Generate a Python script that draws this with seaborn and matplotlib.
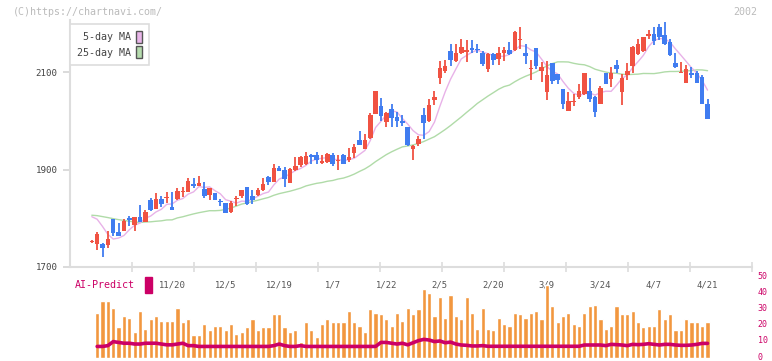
import numpy as np
import pandas as pd
import matplotlib
matplotlib.use("Agg")
import matplotlib.pyplot as plt
import matplotlib.transforms as mtransforms
from matplotlib.patches import Patch, Rectangle
import seaborn as sns

# --- daily candles ---
opens = [1752, 1747, 1747, 1745, 1798, 1772, 1774, 1801, 1786, 1803,
         1793, 1837, 1820, 1839, 1842, 1823, 1839, 1854, 1854, 1870,
         1867, 1860, 1848, 1852, 1836, 1831, 1813, 1839, 1846, 1864,
         1846, 1848, 1858, 1884, 1874, 1903, 1899, 1873, 1899, 1910,
         1912, 1929, 1930, 1914, 1915, 1930, 1919, 1930, 1919, 1934,
         1960, 1943, 1964, 2013, 2031, 1998, 2024, 2008, 2000, 1988,
         1942, 1952, 2011, 1999, 2042, 2088, 2103, 2143, 2122, 2139,
         2141, 2149, 2148, 2140, 2106, 2136, 2126, 2138, 2146, 2145,
         2166, 2140, 2107, 2150, 2103, 2058, 2119, 2095, 2065, 2019,
         2039, 2048, 2055, 2062, 2048, 2035, 2097, 2085, 2114, 2058,
         2094, 2113, 2137, 2144, 2173, 2178, 2193, 2176, 2162, 2118,
         2099, 2078, 2097, 2097, 2089, 2035]
highs = [1755, 1772, 1750, 1774, 1798, 1790, 1798, 1804, 1803, 1827,
         1817, 1842, 1852, 1846, 1854, 1854, 1862, 1864, 1882, 1882,
         1887, 1874, 1862, 1852, 1840, 1831, 1835, 1846, 1858, 1864,
         1858, 1863, 1882, 1886, 1912, 1908, 1905, 1903, 1926, 1928,
         1935, 1931, 1935, 1929, 1934, 1934, 1929, 1932, 1944, 1952,
         1979, 1972, 2015, 2061, 2046, 2017, 2034, 2017, 2012, 1988,
         1950, 1969, 2026, 2044, 2062, 2123, 2124, 2157, 2157, 2167,
         2165, 2165, 2157, 2144, 2138, 2140, 2152, 2152, 2161, 2184,
         2192, 2158, 2125, 2150, 2120, 2123, 2119, 2095, 2065, 2060,
         2055, 2075, 2098, 2087, 2050, 2072, 2099, 2111, 2124, 2095,
         2118, 2153, 2168, 2172, 2186, 2193, 2198, 2203, 2167, 2138,
         2121, 2115, 2110, 2102, 2094, 2045]
lows = [1750, 1735, 1721, 1738, 1764, 1764, 1774, 1785, 1774, 1793,
        1793, 1815, 1820, 1824, 1832, 1817, 1837, 1843, 1854, 1863,
        1867, 1842, 1837, 1837, 1825, 1810, 1811, 1825, 1841, 1827,
        1830, 1846, 1856, 1869, 1874, 1896, 1865, 1873, 1897, 1905,
        1910, 1911, 1911, 1911, 1913, 1908, 1898, 1911, 1915, 1924,
        1951, 1943, 1962, 2013, 1999, 1988, 1988, 1988, 1990, 1949,
        1920, 1949, 1963, 1997, 2033, 2075, 2097, 2113, 2120, 2137,
        2121, 2138, 2138, 2113, 2101, 2115, 2115, 2122, 2134, 2143,
        2148, 2116, 2084, 2106, 2080, 2042, 2075, 2076, 2024, 2019,
        2030, 2044, 2053, 2039, 2008, 2034, 2076, 2070, 2097, 2033,
        2083, 2099, 2135, 2142, 2168, 2155, 2166, 2156, 2132, 2108,
        2097, 2078, 2088, 2078, 2034, 2003]
closes = [1754, 1768, 1738, 1757, 1770, 1764, 1794, 1797, 1803, 1793,
          1813, 1817, 1839, 1830, 1844, 1817, 1855, 1856, 1876, 1866,
          1872, 1846, 1862, 1837, 1834, 1811, 1831, 1842, 1858, 1830,
          1837, 1858, 1870, 1874, 1903, 1897, 1880, 1901, 1907, 1926,
          1928, 1925, 1920, 1917, 1932, 1911, 1921, 1911, 1926, 1946,
          1951, 1961, 2012, 2061, 2009, 2015, 2005, 2000, 1995, 1951,
          1948, 1962, 1995, 2033, 2048, 2109, 2112, 2124, 2138, 2151,
          2145, 2145, 2146, 2116, 2136, 2125, 2138, 2146, 2136, 2182,
          2168, 2132, 2109, 2113, 2110, 2093, 2082, 2083, 2035, 2040,
          2041, 2062, 2098, 2044, 2018, 2067, 2076, 2097, 2106, 2087,
          2102, 2152, 2158, 2171, 2178, 2164, 2171, 2158, 2134, 2110,
          2101, 2106, 2093, 2078, 2034, 2003]
# closes before the visible window (needed for the moving averages)
prior_closes = [1790, 1787, 1807, 1826, 1814, 1833, 1838, 1841, 1822, 1787,
                1807, 1811, 1808, 1799, 1812, 1754, 1799, 1800, 1795, 1810,
                1794, 1812, 1838, 1818]

date_labels = ["11/20", "12/5", "12/19", "1/7", "1/22", "2/5",
               "2/20", "3/9", "3/24", "4/7", "4/21"]
date_pos = [15, 25, 35, 45, 55, 65, 75, 85, 95, 105, 115]

# AI-Predict panel (first day has no value)
ai_bars = [np.nan,
           28, 35, 35, 31, 19, 26, 25, 16, 29, 18, 24, 26, 23, 23, 23, 31, 22, 24, 14, 14,
           21, 17, 20, 20, 17, 21, 15, 16, 19, 24, 17, 19, 19, 27, 27, 19, 16, 17, 10, 22,
           17, 13, 21, 24, 22, 22, 22, 29, 22, 20, 16, 30, 28, 27, 24, 20, 28,
           23, 31, 27, 30, 43, 40, 26, 38, 25, 39, 26, 24, 38, 28, 18, 31, 18, 17, 25, 21,
           20, 28, 27, 25, 28, 29, 24, 45, 32, 22, 26, 28, 21, 20, 28, 32, 33, 24, 18, 20,
           32, 27, 27, 29, 22, 19, 20, 20, 30, 24, 27, 17, 17, 24, 22, 22, 20, 22]
ai_line = [np.nan,
           7, 7, 7.5, 10, 9.5, 9, 9, 8.5, 8.5, 9, 9, 9, 8.5, 8, 8, 8.5, 9, 7.5, 7.5, 7,
           7, 7, 7, 7, 7, 7, 7, 7, 7, 7, 7, 7, 7,
           7.5, 8.5, 7.5, 7, 7, 7.5,
           7, 7, 7, 7, 7, 7, 7, 7, 7, 7, 7, 7, 7, 7,
           9.5, 9.5, 9, 8.5, 9, 8, 9.3, 10.6, 11.4, 11, 10, 10.4, 9.3, 9.7, 8.5, 7.9,
           7.7, 7.3, 7.3, 7.5,
           7.1, 7.1, 7.1, 7.1, 7.1, 7.1, 7.1, 7.1, 7.1, 7.1, 7.1, 7.1, 7.1, 7.1, 7.1,
           7.1, 7.1, 7.1,
           7.9, 7.9, 7.9, 7.9, 7.5, 8.3, 8.1, 7.9, 7.5, 8.3, 8.1, 8.3, 8.7, 8.3, 7.9,
           8.3, 8.3, 7.9, 7.7, 7.7, 7.9, 8.3, 8.9, 8.9]

UP = "#f05242"
DOWN = "#407cf0"
MA5_C = "#e8b2e8"
MA25_C = "#b0dba8"
MAGENTA = "#cc0066"
ORANGE = "#f2973f"

sns.set_theme(style="white")
plt.rcParams["font.family"] = ["DejaVu Sans Mono", "DejaVu Sans"]

df = pd.DataFrame({"o": opens, "h": highs, "l": lows, "c": closes})
df["idx"] = np.arange(len(df))
all_close = pd.Series(prior_closes + closes, dtype=float)
df["ma5"] = all_close.rolling(5).mean().iloc[len(prior_closes):].values
df["ma25"] = all_close.rolling(25).mean().iloc[len(prior_closes):].values

W, H = 772, 361
fig = plt.figure(figsize=(W / 100, H / 100), dpi=100)
ax = fig.add_axes([70 / W, 1 - 267 / H, 682 / W, 247 / H])
ax2 = fig.add_axes([70 / W, 1 - 357.7 / H, 682 / W, 80.4 / H])

n = len(df)
xlim = (-4.07, n - 1 + 8.3)

# moving averages
sns.lineplot(data=df, x="idx", y="ma25", color=MA25_C, lw=1.0, ax=ax)
sns.lineplot(data=df, x="idx", y="ma5", color=MA5_C, lw=1.0, ax=ax)

# candles
up = df["c"] >= df["o"]
colors = np.where(up, UP, DOWN)
ax.vlines(df["idx"], df["l"], df["h"], colors=colors, lw=1.3, zorder=3)
body = (df["c"] - df["o"]).abs().clip(lower=2.2)
ax.bar(df["idx"], body, bottom=np.minimum(df["o"], df["c"]) - np.where(
    (df["c"] - df["o"]).abs() < 2.2, 1.1, 0), width=0.85, color=colors, lw=0, zorder=4)

ax.set_xlim(*xlim)
ax.set_ylim(1700, 2206.7)
ax.set_xlabel("")
ax.set_ylabel("")
ax.set_yticks([1700, 1900, 2100])
ax.tick_params(axis="y", length=5, width=1.2, color="#d4d4d4", labelsize=6.6,
               labelcolor="#444", pad=4, left=True)
tick_x = [xlim[0] + k * (xlim[1] - xlim[0]) / 11 for k in range(1, 12)]
ax.set_xticks(tick_x)
ax.tick_params(axis="x", direction="inout", length=7, width=1.2, color="#dddddd",
               labelbottom=False, bottom=True)
for s in ["top", "right"]:
    ax.spines[s].set_visible(False)
for s in ["left", "bottom"]:
    ax.spines[s].set_color("#dddddd")
    ax.spines[s].set_linewidth(1.5)

trans = mtransforms.blended_transform_factory(ax.transData, ax.transAxes)
for p, lab in zip(date_pos, date_labels):
    ax.text(p, -0.073, lab, transform=trans, ha="center", va="center",
            fontsize=6.4, color="#555555")

handles = [Patch(facecolor="#e9b6e9", edgecolor="#555555", lw=1),
           Patch(facecolor="#b6dcae", edgecolor="#555555", lw=1)]
leg = ax.legend(handles, ["5-day MA", "25-day MA"], loc="upper left",
                bbox_to_anchor=(0, 0.984), borderaxespad=0, markerfirst=False,
                handlelength=0.6, handleheight=1.45, handletextpad=0.5,
                labelspacing=0.35, fontsize=7.2, fancybox=False, framealpha=1,
                edgecolor="#dddddd", borderpad=0.7)
leg.get_frame().set_linewidth(1.2)
for t in leg.get_texts():
    t.set_color("#444444")

# AI-Predict panel
sns.barplot(x=df["idx"], y=ai_bars, color=ORANGE, saturation=1, width=0.78, ax=ax2)
sns.lineplot(x=df["idx"], y=ai_line, color=MAGENTA, lw=2.6, ax=ax2)
ax2.set_xlim(*xlim)
ax2.set_ylim(0, 50)
ax2.set_xlabel("")
ax2.set_ylabel("")
ax2.set_xticks([])
ax2.yaxis.tick_right()
ax2.set_yticks(range(0, 51, 10))
ax2.tick_params(axis="y", length=0, labelsize=6.0, labelcolor=MAGENTA, pad=4)
lift = mtransforms.ScaledTranslation(0, 1.2 / 72, fig.dpi_scale_trans)
for lab in ax2.get_yticklabels():
    lab.set_transform(lab.get_transform() + lift)
for s in ax2.spines.values():
    s.set_visible(False)
ax2.patch.set_alpha(0)

fig.text(75 / W, 1 - 285 / H, "AI-Predict", color=MAGENTA, fontsize=7.2, va="center")
fig.patches.append(Rectangle((145 / W, 1 - 293 / H), 7 / W, 16 / H,
                             transform=fig.transFigure, color=MAGENTA))
fig.text(13 / W, 1 - 12 / H, "(C)https://chartnavi.com/", color="#bbbbbb",
         fontsize=7.2, va="center")
fig.text(757 / W, 1 - 12 / H, "2002", color="#bbbbbb", fontsize=7.2,
         va="center", ha="right")

fig.savefig("out.png", dpi=100)
